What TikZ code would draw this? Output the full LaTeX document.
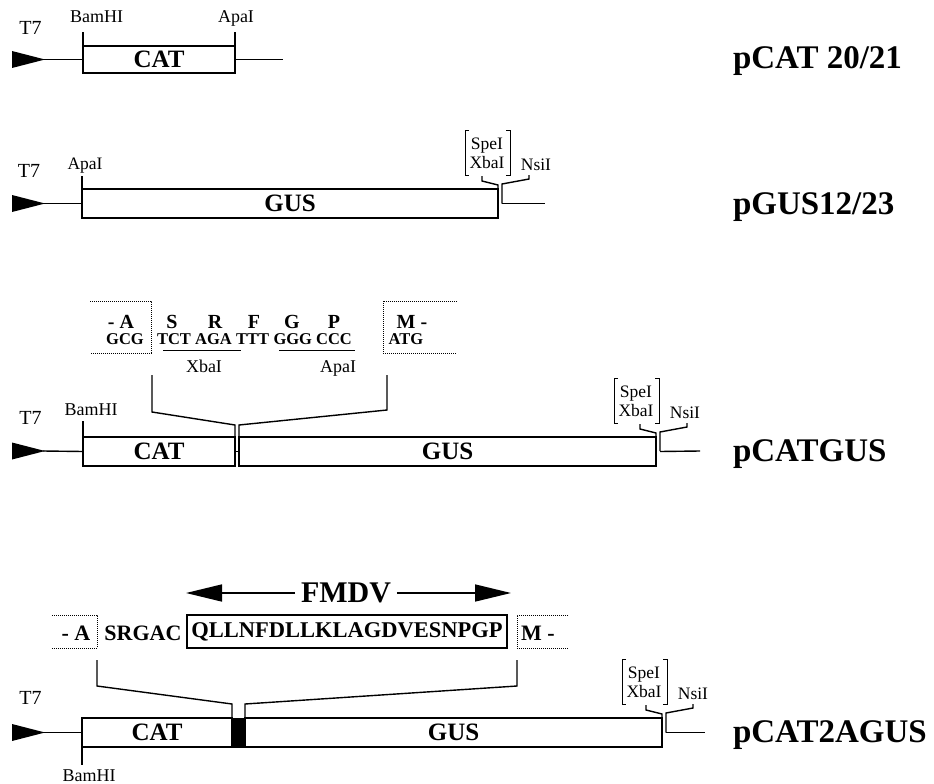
\documentclass[tikz,border=0pt]{standalone}
\usepackage{fontspec}
\setmainfont{Liberation Serif}
\usetikzlibrary{arrows.meta}
\newcommand\myfs[1]{\fontsize{#1}{#1}\selectfont}
\tikzset{
  every node/.style={inner sep=0pt, outer sep=0pt},
  gene/.style={draw, line width=1.5pt, rectangle, font=\myfs{25}\bfseries},
  lw/.style={line width=1.4pt},
  enz/.style={font=\myfs{18}},
  sm/.style={font=\myfs{17.5}},
  tsev/.style={font=\myfs{20}},
  lab/.style={font=\myfs{33}\bfseries, anchor=base west},
  aa/.style={font=\myfs{20}\bfseries, anchor=base},
  cod/.style={font=\myfs{16.5}\bfseries, anchor=base},
  dots/.style={line width=1pt, densely dotted},
  brk/.style={line width=1pt},
  fmarr/.style={line width=1.6pt, -{Triangle[length=36pt,width=17pt]}},
}
% promoter triangle: name, y
\newcommand\promoter[2]{%
  \fill (12,#2-8.5) -- (12,#2+8.5) -- (45,#2) -- cycle;
  \coordinate (#1) at (43,#2);}
% cluster: prefix, Rx, Top, Mid, dx
\newcommand\cluster[5]{%
  \node[sm, anchor=base] (#1spe) at (#2-18+#5,#3-40) {SpeI};
  \node[sm, anchor=base] (#1xba) at (#2-18+#5,#3-21) {XbaI};
  \draw[brk] (#2-40+#5+4,#3-59) -- (#2-40+#5,#3-59) -- (#2-40+#5,#3-14) -- (#2-40+#5+4,#3-14);
  \draw[brk] (#2+5+#5-4,#3-59) -- (#2+5+#5,#3-59) -- (#2+5+#5,#3-14) -- (#2+5+#5-4,#3-14);
  \draw[lw] (#2-16,#3-13) -- (#2-16,#3-8) -- (#2,#3-4) -- (#2,#3);
  \draw[lw] (#2+4,#4) -- (#2+4,#3-5) -- (#2+31,#3-10) -- (#2+31,#3-14);
  \node[sm, anchor=base] (#1nsi) at (#2+31+#5,#3-19) {NsiI};}
\begin{document}
\begin{tikzpicture}[x=1pt,y=-1pt]
\useasboundingbox (0,0) rectangle (934,784);

% ---------------- Row 1: pCAT 20/21
\node[tsev, anchor=base] (t7a) at (30.5,35) {T7};
\promoter{pa}{59.5}
\node[gene, minimum width=152pt, minimum height=27pt] (cat1) at (159,59.5) {CAT};
\draw[lw] (pa) -- (cat1.west);
\coordinate (e1) at (283,59.5);
\draw[lw] (cat1.east) -- (e1);
\node[enz, anchor=base] (bam1) at (96.5,23) {BamHI};
\node[enz, anchor=base] (apa1) at (236,23) {ApaI};
\draw[lw] (cat1.north west) -- ++(0,-14);
\draw[lw] (cat1.north east) -- ++(0,-14);
\node[lab] (l1) at (733,69) {pCAT 20/21};

% ---------------- Row 2: pGUS12/23
\node[tsev, anchor=base] (t7b) at (29,177) {T7};
\promoter{pb}{203.5}
\node[gene, minimum width=416pt, minimum height=29pt] (gus2) at (290,203.5) {GUS};
\draw[lw] (pb) -- (gus2.west);
\coordinate (e2) at (545,203.5);
\draw[lw] (gus2.east) ++(4,0) -- (e2);
\node[font=\myfs{17.5}, anchor=base] (apa2) at (85,169) {ApaI};
\draw[lw] (gus2.north west) -- ++(0,-13);
\cluster{r2}{498}{189}{203.5}{7}
\node[lab] (l2) at (733,214) {pGUS12/23};

% ---------------- Row 3: pCATGUS
\draw[dots] (90,301) -- (151,301) -- (151,353) -- (90,353);
\draw[dots] (457,301) -- (383,301) -- (383,353) -- (457,353);
\node[aa] (a3a) at (121,328) {- A};
\node[aa] (a3s) at (172,328) {S};
\node[aa] (a3r) at (215,328) {R};
\node[aa] (a3f) at (254,328) {F};
\node[aa] (a3g) at (292,328) {G};
\node[aa] (a3p) at (334,328) {P};
\node[aa] (a3m) at (412,328) {M -};
\node[cod] (c1) at (125,344) {GCG};
\node[cod] (c2) at (174,344) {TCT};
\node[cod] (c3) at (213.5,344) {AGA};
\node[cod] (c4) at (252.7,344) {TTT};
\node[cod] (c5) at (292.8,344) {GGG};
\node[cod] (c6) at (334,344) {CCC};
\node[cod] (c7) at (406,344) {ATG};
\draw[line width=1.1pt] (163,350.5) -- (241,350.5);
\draw[line width=1.1pt] (279,350.5) -- (355,350.5);
\node[enz, anchor=base] (xba3) at (204,372) {XbaI};
\node[enz, anchor=base] (apa3) at (338,372) {ApaI};

\node[tsev, anchor=base] (t7c) at (30.5,424) {T7};
\promoter{pc}{451}
\node[gene, minimum width=152pt, minimum height=29pt] (cat3) at (159,451.5) {CAT};
\node[gene, minimum width=417pt, minimum height=29pt] (gus3) at (447.5,451.5) {GUS};
\draw[lw] (pc) -- (cat3.west);
\draw[lw] (cat3.east) -- (gus3.west);
\coordinate (b3l) at (152,375);
\coordinate (b3r) at (387,375);
\draw[lw] (b3l) -- (152,412) -- (235,425) -- (cat3.north east);
\draw[lw] (b3r) -- (387,410) -- (239,425) -- (gus3.north west);
\node[enz, anchor=base] (bam3) at (91,415) {BamHI};
\draw[lw] (cat3.north west) -- ++(0,-16);
\cluster{r3}{656}{437}{451}{-2}
\coordinate (e3) at (700,451);
\draw[lw] (gus3.east) ++(4,0) -- (e3);
\node[lab] (l3) at (733,461) {pCATGUS};

% ---------------- Row 4: pCAT2AGUS
\node[font=\myfs{30}\bfseries] (fm) at (346,593) {FMDV};
\coordinate (al) at (186,593);
\coordinate (ar) at (511,593);
\draw[fmarr] ([xshift=-6pt]fm.west) -- (al);
\draw[fmarr] ([xshift=6pt]fm.east) -- (ar);
\draw[dots] (52,615) -- (97,615) -- (97,648) -- (52,648);
\draw[dots] (568,615) -- (517,615) -- (517,648) -- (568,648);
\node[font=\myfs{22}\bfseries, anchor=base] (a4a) at (76,640) {- A};
\node[font=\myfs{22}\bfseries, anchor=base] (sr) at (143,640) {SRGAC};
\node[draw, line width=1.5pt, minimum width=320pt, minimum height=33pt, font=\myfs{22.5}\bfseries] (q) at (347,631.5) {QLLNFDLLKLAGDVESNPGP};
\node[font=\myfs{22}\bfseries, anchor=base] (a4m) at (538,640) {M -};

\node[tsev, anchor=base] (t7d) at (30.5,704) {T7};
\promoter{pd}{732.5}
\node[gene, minimum width=150pt, minimum height=29pt] (cat4) at (157,732.5) {CAT};
\node[fill=black, minimum width=13pt, minimum height=30pt] (blk) at (238.5,732.5) {};
\node[gene, minimum width=417pt, minimum height=29pt] (gus4) at (453.5,732.5) {GUS};
\draw[lw] (pd) -- (cat4.west);
\coordinate (b4l) at (97,660);
\coordinate (b4r) at (517,660);
\draw[lw] (b4l) -- (97,686) -- (232,704) -- (blk.north west);
\draw[lw] (b4r) -- (517,686) -- (245,704) -- (blk.north east);
\draw[lw] (cat4.south west) -- ++(0,18);
\node[enz, anchor=base] (bam4) at (89,781) {BamHI};
\cluster{r4}{662}{718}{732.5}{0}
\coordinate (e4) at (705,732.5);
\draw[lw] (gus4.east) ++(4,0) -- (e4);
\node[lab] (l4) at (733,742) {pCAT2AGUS};
\end{tikzpicture}
\end{document}
